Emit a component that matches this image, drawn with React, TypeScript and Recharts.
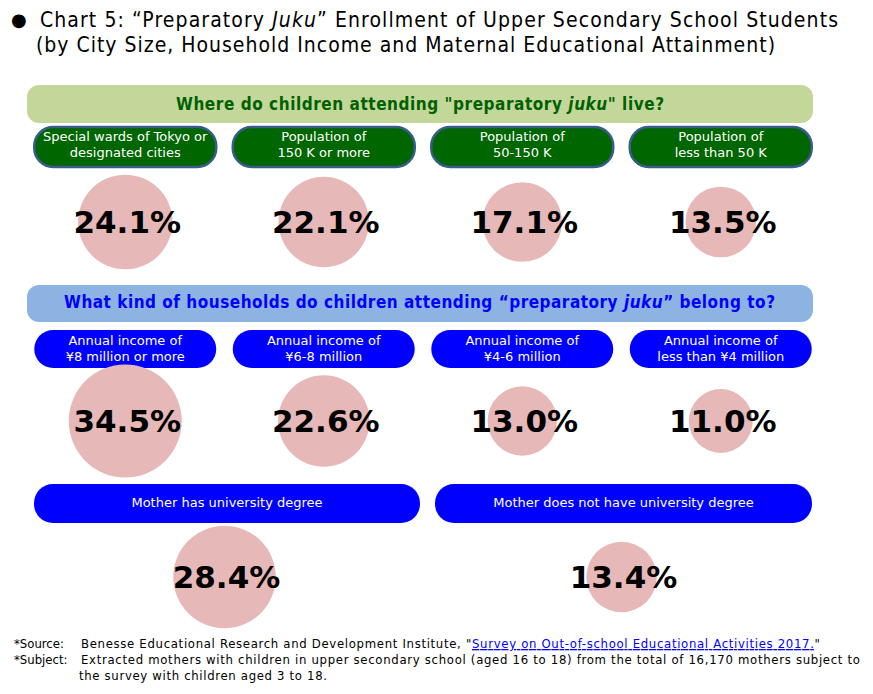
import React from 'react';
import { ScatterChart, Scatter, XAxis, YAxis, ZAxis } from 'recharts';

// ---------- data ----------
const cityCategories: string[][] = [
  ['Special wards of Tokyo or', 'designated cities'],
  ['Population of', '150 K or more'],
  ['Population of', '50-150 K'],
  ['Population of', 'less than 50 K'],
];
const cityValues = [24.1, 22.1, 17.1, 13.5];

const incomeCategories: string[][] = [
  ['Annual income of', '¥8 million or more'],
  ['Annual income of', '¥6-8 million'],
  ['Annual income of', '¥4-6 million'],
  ['Annual income of', 'less than ¥4 million'],
];
const incomeValues = [34.5, 22.6, 13.0, 11.0];

const motherCategories = ['Mother has university degree', 'Mother does not have university degree'];
const motherValues = [28.4, 13.4];

const cityColumns = [0, 1, 2, 3];
const incomeColumns = [0, 1, 2, 3];
const motherColumns = [0.5, 2.5];

// ---------- layout ----------
const PAGE_W = 873;
const PAGE_H = 694;
const M_L = 26;
const M_R = 53;
const X_DOMAIN: [number, number] = [-0.5, 3.5];
const colX = (c: number) =>
  M_L + ((c - X_DOMAIN[0]) / (X_DOMAIN[1] - X_DOMAIN[0])) * (PAGE_W - M_L - M_R);

const Z_DOMAIN: [number, number] = [0, 34.5];
const Z_RANGE: [number, number] = [0, Math.PI * 56.5 * 56.5];

const BUBBLE = '#e6b8b7';
const SANS = 'DejaVu Sans';
const COND = 'DejaVu Sans Condensed';

const BubbleShape = (props: any) => {
  const { cx, cy, payload } = props;
  const r =
    props.width != null ? props.width / 2 : Math.sqrt(Math.max(props.size || 0, 0) / Math.PI);
  return (
    <g>
      <circle cx={cx} cy={cy} r={r} fill={BUBBLE} />
      <text
        x={cx + 2}
        y={cy + 11}
        textAnchor="middle"
        fontFamily={SANS}
        fontWeight="bold"
        fontSize={31}
        fill="#000"
      >
        {payload.z.toFixed(1)}%
      </text>
    </g>
  );
};

type RowProps = {
  values: number[];
  columns: number[];
  top: number;
  height: number;
  marginTop: number;
  marginBottom: number;
};

const BubbleRow = ({ values, columns, top, height, marginTop, marginBottom }: RowProps) => {
  const data = values.map((v, i) => ({ x: columns[i], y: 0, z: v }));
  return (
    <div style={{ position: 'absolute', left: 0, top, width: PAGE_W, height }}>
      <ScatterChart
        width={PAGE_W}
        height={height}
        margin={{ top: marginTop, bottom: marginBottom, left: M_L, right: M_R }}
      >
        <XAxis type="number" dataKey="x" domain={X_DOMAIN} hide />
        <YAxis type="number" dataKey="y" domain={[-1, 1]} hide />
        <ZAxis type="number" dataKey="z" domain={Z_DOMAIN} range={Z_RANGE} />
        <Scatter data={data} shape={BubbleShape} isAnimationActive={false} />
      </ScatterChart>
    </div>
  );
};

const TwoLineBox = ({
  cx,
  y,
  h,
  lines,
  fill,
  stroke,
  base1,
  base2,
}: {
  cx: number;
  y: number;
  h: number;
  lines: string[];
  fill: string;
  stroke?: string;
  base1: number;
  base2: number;
}) => (
  <g>
    <rect
      x={cx - 91}
      y={y}
      width={182}
      height={h}
      rx={19}
      ry={19}
      fill={fill}
      stroke={stroke || 'none'}
      strokeWidth={stroke ? 2.5 : 0}
    />
    <text x={cx} y={base1} textAnchor="middle" fontFamily={SANS} fontSize={13} fill="#fff">
      {lines[0]}
    </text>
    <text x={cx} y={base2} textAnchor="middle" fontFamily={SANS} fontSize={13} fill="#fff">
      {lines[1]}
    </text>
  </g>
);

const Background = () => {
  const motherSpans = [
    [34, 420],
    [435, 812],
  ];
  return (
    <svg
      width={PAGE_W}
      height={PAGE_H}
      style={{ position: 'absolute', left: 0, top: 0 }}
    >
      {/* title */}
      <text x={11} y={26} fontFamily={SANS} fontSize={18} fill="#000">
        ●
      </text>
      <text
        x={40}
        y={27}
        fontFamily={COND}
        fontSize={21}
        fill="#000"
        textLength={798}
        lengthAdjust="spacing"
      >
        Chart 5: “Preparatory <tspan fontStyle="italic">Juku</tspan>” Enrollment of Upper Secondary
        School Students
      </text>
      <text
        x={36}
        y={52}
        fontFamily={COND}
        fontSize={21}
        fill="#000"
        textLength={739}
        lengthAdjust="spacing"
      >
        (by City Size, Household Income and Maternal Educational Attainment)
      </text>

      {/* section 1 header */}
      <rect x={27} y={85} width={786} height={38} rx={12} ry={12} fill="#c4d79b" />
      <text
        x={176}
        y={110}
        fontFamily={COND}
        fontWeight="bold"
        fontSize={17}
        fill="#006100"
        textLength={488}
        lengthAdjust="spacing"
      >
        Where do children attending "preparatory <tspan fontStyle="italic">juku</tspan>" live?
      </text>
      {cityCategories.map((lines, i) => (
        <TwoLineBox
          key={'c' + i}
          cx={colX(cityColumns[i])}
          y={127}
          h={40}
          lines={lines}
          fill="#006600"
          stroke="#385d8a"
          base1={141}
          base2={157}
        />
      ))}

      {/* section 2 header */}
      <rect x={27} y={285} width={786} height={37} rx={12} ry={12} fill="#8db3e2" />
      <text
        x={64}
        y={308}
        fontFamily={COND}
        fontWeight="bold"
        fontSize={17}
        fill="#0000ff"
        textLength={711}
        lengthAdjust="spacing"
      >
        What kind of households do children attending “preparatory{' '}
        <tspan fontStyle="italic">juku</tspan>” belong to?
      </text>
      {incomeCategories.map((lines, i) => (
        <TwoLineBox
          key={'i' + i}
          cx={colX(incomeColumns[i])}
          y={330}
          h={38}
          lines={lines}
          fill="#0000ff"
          base1={345}
          base2={361}
        />
      ))}

      {/* section 3 boxes */}
      {motherCategories.map((label, i) => {
        const [x0, x1] = motherSpans[i];
        return (
          <g key={'m' + i}>
            <rect x={x0} y={484} width={x1 - x0} height={39} rx={19} ry={19} fill="#0000ff" />
            <text
              x={(x0 + x1) / 2}
              y={507}
              textAnchor="middle"
              fontFamily={SANS}
              fontSize={13}
              fill="#fff"
            >
              {label}
            </text>
          </g>
        );
      })}

      {/* footnotes */}
      <text x={14} y={648} fontFamily={COND} fontSize={13} fill="#000">
        *Source:
      </text>
      <text
        x={81}
        y={648}
        fontFamily={COND}
        fontSize={13}
        fill="#000"
        textLength={739}
        lengthAdjust="spacing"
      >
        Benesse Educational Research and Development Institute, "
        <tspan fill="#0000ff" textDecoration="underline">
          Survey on Out-of-school Educational Activities 2017.
        </tspan>
        "
      </text>
      <text x={14} y={664} fontFamily={COND} fontSize={13} fill="#000">
        *Subject:
      </text>
      <text
        x={81}
        y={664}
        fontFamily={COND}
        fontSize={13}
        fill="#000"
        textLength={779}
        lengthAdjust="spacing"
      >
        Extracted mothers with children in upper secondary school (aged 16 to 18) from the total of
        16,170 mothers subject to
      </text>
      <text
        x={79}
        y={680}
        fontFamily={COND}
        fontSize={13}
        fill="#000"
        textLength={248}
        lengthAdjust="spacing"
      >
        the survey with children aged 3 to 18.
      </text>
    </svg>
  );
};

export default function App() {
  return (
    <div
      style={{
        position: 'absolute',
        left: 0,
        top: 0,
        width: PAGE_W,
        height: PAGE_H,
        background: '#fff',
        overflow: 'hidden',
      }}
    >
      <Background />
      <BubbleRow
        values={cityValues}
        columns={cityColumns}
        top={80}
        height={200}
        marginTop={100}
        marginBottom={16}
      />
      <BubbleRow
        values={incomeValues}
        columns={incomeColumns}
        top={280}
        height={200}
        marginTop={100}
        marginBottom={18}
      />
      <BubbleRow
        values={motherValues}
        columns={motherColumns}
        top={480}
        height={154}
        marginTop={55}
        marginBottom={15}
      />
    </div>
  );
}
